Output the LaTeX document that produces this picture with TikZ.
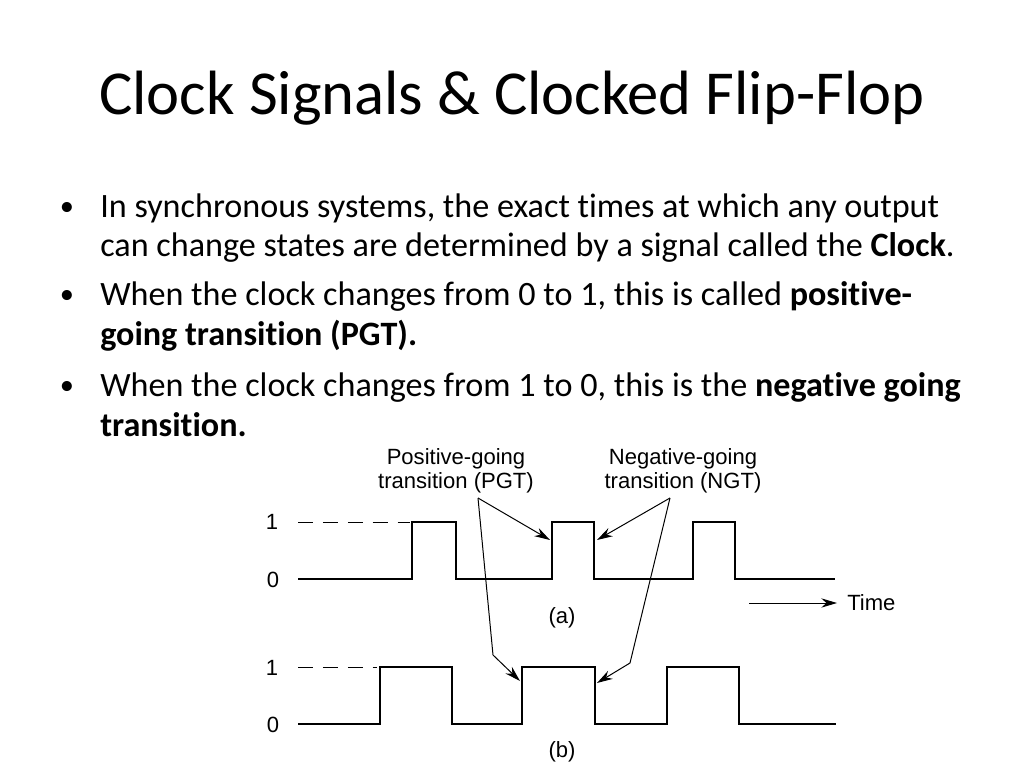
\documentclass[tikz,border=0pt]{standalone}
\usepackage{fontspec}
\setmainfont{Carlito}[Ligatures = NoCommon]
\newfontfamily\diagfont{Liberation Sans}
\usetikzlibrary{arrows.meta}
\usetikzlibrary{positioning}
\tikzset {
  % slide text
  slide title/.style = {
    anchor = base west,
    inner sep = 0,
    font = \fontsize{44}{53}\selectfont
  },
  bullet line/.style = {
    anchor = base west,
    inner sep = 0,
    font = \fontsize{24}{29}\selectfont
  },
  bullet mark/.style = {
    anchor = base,
    inner sep = 0,
    font = \fontsize{20}{24}\selectfont
  },
  % text of the timing diagram
  diag label/.style = {
    inner sep = 0,
    align = center,
    font = \diagfont\fontsize{15.5}{16.9}\selectfont
  }
}
\tikzset {
  % clock waveform
  wave/.style = {
    draw = black,
    line width = 2pt,
    line join = miter
  },
  % dashed line for the 1 level
  level line/.style = {
    draw = black,
    line width = 0.7pt,
    dash pattern = on 10.5pt off 7pt
  },
  % thin line ending in an arrow
  pointer/.style = {
    draw = black,
    line width = 0.7pt,
    -{Stealth[length = 11pt, width = 6.5pt]}
  }
}

\begin{document}
\begin{tikzpicture}[x = 0.703125pt, y = -0.703125pt]
  \path[fill = white, use as bounding box] (0,0) rectangle (1024,768);

  \node[slide title] (title) at (99,115) {Clock Signals \& Clocked Flip-Flop};

  \node[bullet mark] (b1) at (67,216) {\textbullet};
  \node[bullet line] (l1) at (100,218) {In synchronous systems, the exact times at which any output};
  \node[bullet line] (l2) at (100,257) {can change states are determined by a signal called the \textbf{Clock}.};
  \node[bullet mark] (b2) at (67,304) {\textbullet};
  \node[bullet line] (l3) at (100,306) {When the clock changes from 0 to 1, this is called \textbf{positive-}};
  \node[bullet line] (l4) at (100,346) {\textbf{going transition (PGT).}};
  \node[bullet mark] (b3) at (67,394) {\textbullet};
  \node[bullet line] (l5) at (100,396) {When the clock changes from 1 to 0, this is the \textbf{negative going}};
  \node[bullet line] (l6) at (100,436) {\textbf{transition.}};

  \node[diag label] (pgt) at (456,471) {Positive-going\\transition (PGT)};
  \node[diag label] (ngt) at (683,471) {Negative-going\\transition (NGT)};

  \node[diag label] (one a) at (272,522) {1};
  \node[diag label] (zero a) at (273,580) {0};
  \node[diag label] (one b) at (272,668) {1};
  \node[diag label] (zero b) at (273,725) {0};
  \node[diag label] (cap a) at (562,618) {(a)};
  \node[diag label] (cap b) at (562,752) {(b)};
  \node[diag label, anchor = west] (time) at (847,603) {Time};

  \coordinate (pgt-src) at (478,498);
  \coordinate (pgt-a) at (550,540);
  \coordinate (pgt-bend) at (493,655);
  \coordinate (pgt-b) at (520,681);
  \coordinate (ngt-src) at (670,498);
  \coordinate (ngt-a) at (597,540);
  \coordinate (ngt-bend) at (630,663);
  \coordinate (ngt-b) at (597,683);
  \coordinate (time-start) at (749,603);
  \coordinate (time-end) at (837,603);

  % waveform (a)
  \draw[level line] (298,522) -- (410,522);
  \draw[wave] (298,579)
    -| (412,522) -| (456,579)
    -| (552,522) -| (594,579)
    -| (693,522) -| (735,579)
    -- (835,579);

  % waveform (b)
  \draw[level line] (298,667) -- (377,667);
  \draw[wave] (298,724)
    -| (380,667) -| (452,724)
    -| (522,667) -| (595,724)
    -| (667,667) -| (739,724)
    -- (836,724);

  \draw[pointer] (pgt-src) -- (pgt-a);
  \draw[pointer] (pgt-src) -- (pgt-bend) -- (pgt-b);
  \draw[pointer] (ngt-src) -- (ngt-a);
  \draw[pointer] (ngt-src) -- (ngt-bend) -- (ngt-b);
  \draw[pointer] (time-start) -- (time-end);
\end{tikzpicture}
\end{document}
